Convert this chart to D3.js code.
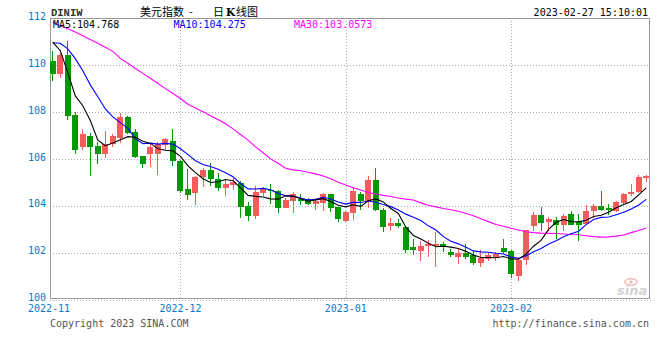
<!DOCTYPE html>
<html><head><meta charset="utf-8">
<script src="https://cdnjs.cloudflare.com/ajax/libs/d3/7.8.5/d3.min.js"></script>
<style>html,body{margin:0;padding:0;background:#fff;}svg{display:block;}</style>
</head><body>
<script>
// ---------------- data ----------------
const monthLabels = ["2022-11","2022-12","2023-01","2023-02"];
const monthStart  = [0, 17, 39, 61];
const yTicks = [100,102,104,106,108,110,112];
const opens = [110.2,109.63,110.46,107.89,106.51,106.99,106.56,106.23,106.66,106.91,107.8,107.17,106.13,106.2,106.2,106.6,106.77,105.94,104.71,104.56,105.24,105.53,105.17,104.77,104.89,104.99,103.99,103.56,104.56,104.7,104.63,103.91,104.2,104.31,104.31,104.09,104.13,104.51,103.94,103.37,103.7,104.51,104.2,105.1,103.84,103.16,103.27,103.09,102.23,102.06,102.27,102.27,102.39,102.03,101.84,101.98,101.89,101.56,101.74,101.84,102.2,102.09,100.99,101.7,103.13,103.63,103.31,103.41,103.17,103.66,103.3,103.23,103.77,103.99,103.91,103.77,104.13,104.49,104.6,105.2];
const highs = [110.63,110.66,111.03,108.03,107.27,107.13,106.74,107.2,107.06,107.97,107.84,107.27,106.13,106.63,106.74,106.91,107.27,105.97,105.56,105.27,105.63,105.83,105.39,105.17,105.2,105.06,104.16,104.84,104.81,104.94,104.66,104.34,104.59,104.51,104.34,104.34,104.56,104.51,103.94,103.77,104.8,104.6,105.27,105.63,103.91,103.48,103.46,103.09,102.6,102.52,102.56,102.88,102.46,102.17,102.17,102.39,102.06,102.13,102.03,102.03,102.58,102.13,101.77,102.96,103.73,103.94,103.51,103.51,103.66,103.8,103.66,104.06,104.08,104.63,104.08,104.23,104.56,104.92,105.31,105.31];
const lows = [109.34,109.46,107.69,106.23,106.37,105.27,105.8,106.06,106.51,106.7,107.08,106.03,105.6,105.66,105.31,106.4,105.7,104.55,104.27,104.03,104.81,104.84,104.63,104.41,104.7,103.48,103.34,103.44,104.41,104.09,103.7,103.91,103.7,104.06,104.06,103.81,103.77,103.73,103.31,103.31,103.4,103.84,103.91,103.8,102.88,102.91,103.06,101.98,101.89,101.66,101.84,101.41,102.03,101.83,101.51,101.74,101.49,101.41,101.63,101.63,101.98,100.94,100.8,101.49,102.91,102.91,102.94,102.6,102.91,103.2,102.49,103.23,103.48,103.77,103.63,103.74,104.06,104.41,104.56,105.03];
const closes = [109.63,110.46,107.84,106.37,107.09,106.51,106.23,106.63,106.99,107.8,107.13,106.09,105.8,106.51,106.66,106.84,105.94,104.63,104.46,105.23,105.53,105.16,104.77,104.94,105.01,103.96,103.56,104.59,104.77,104.63,103.91,104.24,104.53,104.23,104.09,104.2,104.51,103.91,103.44,103.74,104.63,104.2,105.1,103.81,103.09,103.27,103.13,102.13,102.1,102.31,102.37,102.37,102.27,101.89,101.98,101.8,101.56,101.77,101.89,101.94,102.03,101.08,101.7,102.96,103.63,103.27,103.46,103.17,103.56,103.2,103.2,103.8,103.99,103.81,103.84,104.17,104.51,104.6,105.23,105.26];
const ma5 = [111.0,110.63,109.69,108.7,108.28,107.65,106.81,106.57,106.69,106.83,106.96,106.93,106.76,106.67,106.44,106.38,106.35,106.12,105.71,105.42,105.16,105.0,105.03,105.13,105.08,104.77,104.45,104.41,104.38,104.3,104.29,104.43,104.42,104.31,104.2,104.26,104.31,104.19,104.03,103.96,104.05,103.98,104.22,104.3,104.17,103.89,103.68,103.09,102.74,102.59,102.41,102.26,102.28,102.24,102.18,102.06,101.9,101.8,101.8,101.79,101.84,101.74,101.73,101.94,102.28,102.53,103.0,103.3,103.42,103.33,103.32,103.39,103.55,103.6,103.73,103.92,104.06,104.19,104.47,104.77];
const ma10 = [110.97,110.95,110.71,110.29,109.77,109.17,108.66,108.14,107.8,107.56,107.31,106.87,106.66,106.68,106.64,106.67,106.64,106.44,106.19,105.93,105.77,105.68,105.57,105.42,105.25,104.96,104.73,104.72,104.75,104.69,104.53,104.44,104.41,104.34,104.25,104.28,104.37,104.3,104.17,104.08,104.15,104.15,104.21,104.16,104.06,103.97,103.83,103.65,103.52,103.38,103.15,102.97,102.69,102.49,102.38,102.24,102.08,102.04,102.02,101.98,101.95,101.82,101.76,101.87,102.04,102.18,102.37,102.51,102.68,102.81,102.92,103.2,103.42,103.51,103.53,103.62,103.73,103.87,104.04,104.28];
const ma30 = [111.83,111.68,111.57,111.43,111.27,111.11,110.95,110.78,110.6,110.3,110.09,109.87,109.66,109.45,109.23,109.01,108.8,108.59,108.34,108.18,108.02,107.85,107.69,107.51,107.29,107.05,106.81,106.52,106.27,106.01,105.82,105.61,105.54,105.5,105.44,105.37,105.28,105.16,105.01,104.89,104.78,104.68,104.57,104.51,104.45,104.4,104.34,104.29,104.25,104.13,104.03,103.96,103.89,103.84,103.77,103.68,103.58,103.45,103.33,103.21,103.13,103.05,102.97,102.9,102.86,102.84,102.83,102.82,102.8,102.78,102.77,102.73,102.69,102.67,102.68,102.71,102.76,102.86,102.95,103.06];
const legendTexts = ["MA5:104.768","MA10:104.275","MA30:103.0573"];
const titleText = ["美元指数","-","日","K","线图"];
const symbolText = "DINIW";
const timeText = "2023-02-27 15:10:01";
const copyText = "Copyright 2023 SINA.COM";
const urlText = "http://finance.sina.com.cn";

// ---------------- chart ----------------
const W = 660, H = 360;
const PL = 50, PR = 649, PT = 18, PB = 298;
const UP = "#f45c5c", DOWN = "#009a00";
const mono = "'DejaVu Sans Mono', 'Liberation Mono', monospace";

const svg = d3.select("body").append("svg").attr("width", W).attr("height", H);

const idx = d3.range(closes.length);
const x = d3.scaleBand().domain(idx).range([49, 650]).padding(0);
const step = x.step();
const cx = i => x(i) + step / 2;
const y = d3.scaleLinear().domain([100, 112]).range([299.6, 18.6]);
const px = v => Math.round(v) + 0.5;

// grid
const grid = svg.append("g").attr("stroke", "#aaa").attr("stroke-dasharray", "1,2").attr("shape-rendering", "crispEdges");
grid.selectAll("line.h").data(yTicks.filter(t => t > 100 && t < 112)).join("line")
  .attr("x1", PL).attr("x2", PR).attr("y1", d => px(y(d))).attr("y2", d => px(y(d)));
grid.append("line").attr("x1", PL).attr("x2", 651).attr("y1", px(y(100))).attr("y2", px(y(100)));
grid.selectAll("line.v").data(monthStart.slice(1)).join("line")
  .attr("x1", d => px(cx(d))).attr("x2", d => px(cx(d))).attr("y1", PT).attr("y2", PB);

// frame
svg.append("rect").attr("x", PL + 0.5).attr("y", PT + 0.5).attr("width", PR - PL).attr("height", PB - PT)
  .attr("fill", "none").attr("stroke", "#999").attr("shape-rendering", "crispEdges");

// sina watermark
const wm = svg.append("g");
wm.append("ellipse").attr("cx", 631).attr("cy", 282).attr("rx", 6).attr("ry", 3.2).attr("fill", "none").attr("stroke", "#f2b8b8").attr("stroke-width", 1.5);
wm.append("circle").attr("cx", 631).attr("cy", 282).attr("r", 1.6).attr("fill", "#f2b8b8");
wm.append("text").attr("x", 617).attr("y", 295).attr("font-family", "'DejaVu Sans', sans-serif")
  .attr("font-size", 13).attr("font-style", "italic").attr("font-weight", "bold").attr("fill", "#d2d2d2").text("sina");

// candles
const plot = svg.append("g");
const data = idx.map(i => ({i, o: opens[i], h: highs[i], l: lows[i], c: closes[i]}));
const bw = 6;
const cg = plot.selectAll("g.c").data(data).join("g").attr("shape-rendering", "crispEdges");
cg.append("line")
  .attr("x1", d => px(cx(d.i) - 0.5)).attr("x2", d => px(cx(d.i) - 0.5))
  .attr("y1", d => y(d.h)).attr("y2", d => y(d.l))
  .attr("stroke", d => d.c >= d.o ? UP : DOWN);
cg.append("rect")
  .attr("x", d => Math.round(cx(d.i) - bw / 2))
  .attr("width", bw)
  .attr("y", d => y(Math.max(d.o, d.c)))
  .attr("height", d => Math.max(1, Math.abs(y(d.o) - y(d.c))))
  .attr("fill", d => d.c >= d.o ? UP : DOWN);

// MA lines
const line = d3.line().x((d, i) => cx(i)).y(d => y(d));
[[ma30, "#ff00ff"], [ma10, "#0000ff"], [ma5, "#000000"]].forEach(([arr, col]) => {
  plot.append("path").datum(arr).attr("d", line).attr("fill", "none").attr("stroke", col).attr("stroke-width", 1.1);
});

// y labels
svg.append("g").selectAll("text").data(yTicks).join("text")
  .attr("x", 46).attr("y", d => y(d) + 1.5).attr("text-anchor", "end")
  .attr("font-family", mono).attr("font-size", 10).attr("fill", "#0a78c8").text(d => d);

// x labels
svg.append("g").selectAll("text").data(monthLabels).join("text")
  .attr("x", (d, k) => k === 0 ? PL - 1 : cx(monthStart[k]))
  .attr("y", 311.5).attr("text-anchor", "middle")
  .attr("font-family", mono).attr("font-size", 10).attr("fill", "#0a78c8").text(d => d);

// legend
const legCols = ["#000000", "#0000ff", "#ff00ff"];
svg.append("g").selectAll("text").data(legendTexts).join("text")
  .attr("x", (d, k) => 53 + k * 120.5).attr("y", 27.5)
  .attr("font-family", mono).attr("font-size", 10).attr("fill", (d, k) => legCols[k]).text(d => d);

// header
svg.append("text").attr("x", 51).attr("y", 15.5).attr("font-family", "'Liberation Mono', monospace")
  .attr("font-size", 10.5).attr("font-weight", "bold").attr("fill", "#333").text(symbolText);
const title = svg.append("text").attr("y", 16).attr("font-family", "'Noto Sans CJK SC', sans-serif").attr("font-size", 11).attr("fill", "#000");
const tx = [140, 189, 213, 226, 236];
titleText.forEach((t, k) => {
  title.append("tspan").attr("x", tx[k]).attr("font-weight", t === "K" ? "bold" : "normal")
    .attr("font-family", t === "K" ? "'DejaVu Serif', serif" : null)
    .attr("font-size", t === "K" ? 10.5 : null).text(t);
});
svg.append("text").attr("x", 648).attr("y", 15.5).attr("text-anchor", "end")
  .attr("font-family", mono).attr("font-size", 10).attr("fill", "#000").text(timeText);

// footer
svg.append("text").attr("x", 50).attr("y", 327).attr("font-family", mono).attr("font-size", 10).attr("fill", "#555").text(copyText);
svg.append("text").attr("x", 649).attr("y", 327).attr("text-anchor", "end").attr("font-family", mono).attr("font-size", 10).attr("fill", "#555").text(urlText);
</script>
</body></html>
